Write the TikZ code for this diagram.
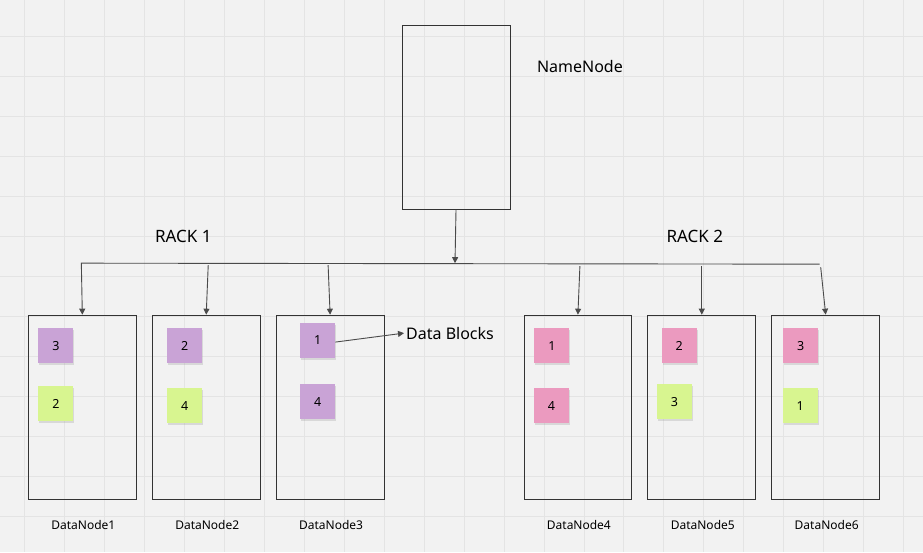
\documentclass[tikz,border=0pt]{standalone}
\usepackage{fontspec}
\setmainfont{Noto Sans}
\usepackage{xcolor}
\usepackage{tikz}
\usetikzlibrary{arrows.meta,positioning,shadows}

\definecolor{canvas}{HTML}{F2F2F2}
\definecolor{gridline}{HTML}{E4E4E4}
\definecolor{boxline}{HTML}{333333}
\definecolor{wire}{HTML}{4A4A4A}
\definecolor{notepurple}{HTML}{C9A3D6}
\definecolor{notepink}{HTML}{EB9ABF}
\definecolor{notegreen}{HTML}{D8F590}

\tikzset{
    dnbox/.style={draw=boxline, line width=0.9pt, minimum width=108pt, minimum height=184pt, inner sep=0pt},
    note/.style={minimum size=35pt, inner sep=0pt, font=\fontsize{12.5}{15}\selectfont,
        drop shadow={shadow xshift=1pt, shadow yshift=-2pt, opacity=0.22}},
    wirearrow/.style={draw=wire, line width=0.9pt, -{Triangle[width=6pt,length=6pt]}},
    biglabel/.style={font=\fontsize{17}{20}\selectfont},
    dnlabel/.style={font=\fontsize{12}{14}\selectfont}
}

\begin{document}
\begin{tikzpicture}[x=1pt,y=-1pt]
    % Canvas with grid
    \fill[canvas] (0,0) rectangle (923,552);
    \foreach \x in {24,64,...,904}
        \draw[gridline, line width=0.8pt] (\x,0) -- (\x,552);
    \foreach \y in {36,76,...,516}
        \draw[gridline, line width=0.8pt] (0,\y) -- (923,\y);
    \useasboundingbox (0,0) rectangle (923,552);

    % NameNode
    \node[dnbox] (nn) at (456,117) {};
    \node[font=\fontsize{16}{19}\selectfont] (nnlabel) at (580,66) {NameNode};

    % Rack labels
    \node[biglabel] (rack1) at (183,236) {RACK 1};
    \node[biglabel] (rack2) at (695,236) {RACK 2};

    % DataNodes
    \foreach \n/\x in {1/82, 2/206, 3/330, 4/578, 5/702, 6/826} {
        \node[dnbox] (dn\n) at (\x,407) {};
        \node[dnlabel] (dnl\n) at (\x+1,525) {DataNode\n};
    }

    % Blocks (sticky notes)
    \node[note, fill=notepurple] (b11) at (55.5,345.5) {3};
    \node[note, fill=notegreen]  (b12) at (55.5,403.5) {2};
    \node[note, fill=notepurple] (b21) at (184.5,345.5) {2};
    \node[note, fill=notegreen]  (b22) at (184.5,405.5) {4};
    \node[note, fill=notepurple] (b31) at (317.5,340) {1};
    \node[note, fill=notepurple] (b32) at (317.5,401.5) {4};
    \node[note, fill=notepink]   (b41) at (552,345.5) {1};
    \node[note, fill=notepink]   (b42) at (551.5,405.5) {4};
    \node[note, fill=notepink]   (b51) at (679.5,345.5) {2};
    \node[note, fill=notegreen]  (b52) at (674.5,401.5) {3};
    \node[note, fill=notepink]   (b61) at (801,345.5) {3};
    \node[note, fill=notegreen]  (b62) at (800.5,405.5) {1};

    % Data Blocks pointer
    \node[biglabel, font=\fontsize{16}{19}\selectfont, inner sep=2pt] (dblabel) at (450,333) {Data Blocks};
    \draw[wirearrow] ([yshift=-2pt]b31.east) -- (dblabel.west);

    % Bus from NameNode to the racks
    \coordinate (busL) at (81,263);
    \coordinate (busR) at (820,264);
    \coordinate (nnjoin) at (455,263);
    \coordinate (tap2) at (208,265);
    \coordinate (tap3) at (328,265);
    \coordinate (tap4) at (580,266);
    \coordinate (tap5) at (702,266);
    \coordinate (tap6) at (821,267);

    \draw[wirearrow] (nn.south) -- (nnjoin);
    \draw[wirearrow] (busR) -- (busL) -- (dn1.north);
    \foreach \n in {2,...,6}
        \draw[wirearrow] (tap\n) -- (dn\n.north);
\end{tikzpicture}
\end{document}
